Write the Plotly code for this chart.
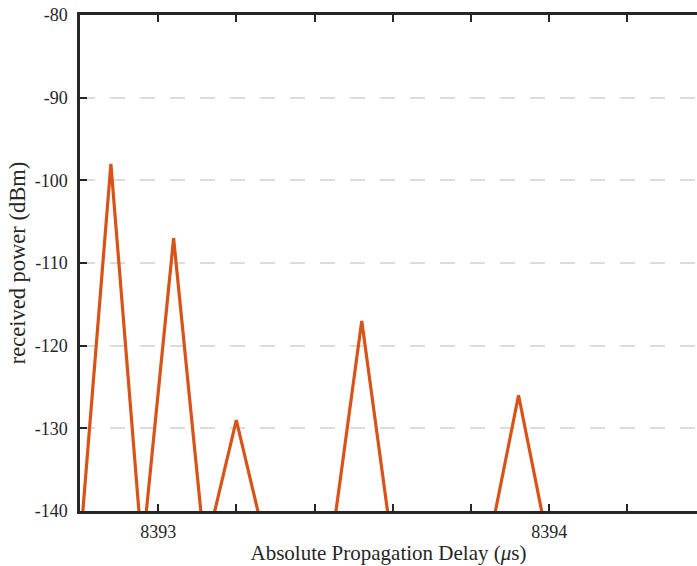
import plotly.graph_objects as go

# Sample delays (µs) and received power (dBm)
delay_us = [8392.7988, 8392.8790, 8392.9592, 8393.0394, 8393.1196, 8393.1998,
            8393.2800, 8393.3602, 8393.4404, 8393.5206, 8393.6008, 8393.6810,
            8393.7612, 8393.8414, 8393.9216, 8394.0018, 8394.0820, 8394.1622,
            8394.2424, 8394.3226, 8394.4028]
power_dbm = [-145, -98, -145, -107, -145, -129,
             -145, -145, -145, -117, -145, -145,
             -145, -145, -126, -145, -145, -145,
             -145, -145, -145]

x_tickvals = [8392.8, 8393.0, 8393.2, 8393.4, 8393.6, 8393.8, 8394.0, 8394.2]
x_ticktext = ["", "8393", "", "", "", "", "8394", ""]
y_tickvals = [-140, -130, -120, -110, -100, -90, -80]
y_ticktext = ["-140", "-130", "-120", "-110", "-100", "-90", "-80"]

axis_color = "#262626"
font_family = "Liberation Serif, Times New Roman, serif"

fig = go.Figure()
fig.add_trace(go.Scatter(
    x=delay_us, y=power_dbm, mode="lines",
    line=dict(color="#D95319", width=3.2),
    showlegend=False, hoverinfo="skip",
))

fig.update_layout(
    width=697, height=566,
    margin=dict(l=80, r=0, t=15, b=55, autoexpand=False),
    paper_bgcolor="white", plot_bgcolor="white",
    font=dict(family=font_family, color=axis_color, size=18),
)

fig.update_xaxes(
    range=[8392.8, 8394.378],
    tickmode="array", tickvals=x_tickvals, ticktext=x_ticktext,
    ticks="inside", ticklen=7, tickwidth=2, tickcolor=axis_color,
    showline=True, linewidth=2.5, linecolor=axis_color, mirror="ticks",
    showgrid=False, zeroline=False, automargin=False,
    tickfont=dict(size=18, family=font_family, color=axis_color),
    ticklabelstandoff=3,
    title=dict(text="Absolute Propagation Delay (<i>μ</i>s)",
               font=dict(size=21, family=font_family, color=axis_color),
               standoff=4),
)
fig.update_yaxes(
    range=[-140, -80],
    tickmode="array", tickvals=y_tickvals, ticktext=y_ticktext,
    ticks="inside", ticklen=7, tickwidth=2, tickcolor=axis_color,
    showline=True, linewidth=2.5, linecolor=axis_color, mirror=False,
    showgrid=True, gridcolor="#DCDCDC", gridwidth=2, griddash="15px,15px",
    zeroline=False, automargin=False,
    tickfont=dict(size=18, family=font_family, color=axis_color),
    ticklabelstandoff=6,
    title=dict(text="received power (dBm)",
               font=dict(size=22.5, family=font_family, color=axis_color),
               standoff=3),
)

fig.write_html("out.html", config={"displayModeBar": False},
               post_script="document.body.style.margin='0';")
